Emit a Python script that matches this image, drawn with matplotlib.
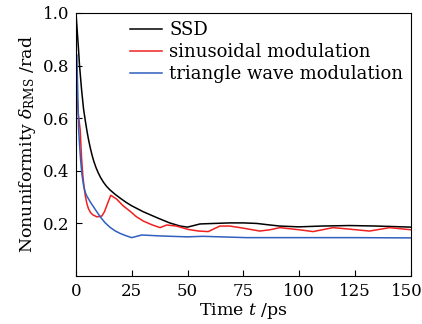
import matplotlib
matplotlib.use("Agg")
import matplotlib.pyplot as plt
from matplotlib.transforms import ScaledTranslation

plt.rcParams['font.family'] = 'DejaVu Serif'
plt.rcParams['mathtext.fontset'] = 'dejavuserif'

# SSD
t_ssd = [0, 0.5, 1, 1.6, 2.5, 3.4, 4.2, 4.9, 5.6, 6.4, 7.2, 8, 9, 10, 11, 12.3,
         13.7, 15.3, 17.5, 20, 22.5, 25, 30, 36.8, 42, 46.7, 50, 55.6, 62, 69, 75,
         81, 86, 91.4, 100, 110, 122.7, 135, 150]
v_ssd = [1.0, 0.94, 0.88, 0.8, 0.71, 0.635, 0.59, 0.553, 0.52, 0.488, 0.46, 0.436,
         0.412, 0.392, 0.375, 0.357, 0.341, 0.327, 0.311, 0.295, 0.28, 0.267, 0.245,
         0.22, 0.202, 0.19, 0.186, 0.198, 0.2, 0.202, 0.202, 0.2, 0.195, 0.19, 0.187,
         0.19, 0.192, 0.19, 0.186]

# sinusoidal modulation
t_sin = [0, 0.5, 1, 1.9, 2.5, 3.1, 3.6, 4.2, 4.9, 5.6, 6.5, 7.5, 9.4, 11.6, 12.8,
         13.9, 15.6, 18.3, 21, 24.3, 27, 30.2, 34, 37.7, 40.7, 45, 50.4, 55, 59.3,
         64.5, 69, 75, 82.4, 87, 91.4, 100, 106.3, 115.2, 123, 131.6, 140.6, 150]
v_sin = [0.75, 0.68, 0.62, 0.555, 0.45, 0.38, 0.34, 0.305, 0.275, 0.256, 0.242,
         0.233, 0.225, 0.228, 0.245, 0.27, 0.307, 0.292, 0.268, 0.246, 0.226, 0.209,
         0.195, 0.184, 0.194, 0.19, 0.177, 0.171, 0.169, 0.19, 0.19, 0.182, 0.171,
         0.176, 0.184, 0.176, 0.169, 0.184, 0.178, 0.171, 0.184, 0.176]

# triangle wave modulation
t_tri = [0, 0.4, 1.2, 1.6, 2.1, 2.7, 3.4, 4.1, 4.8, 6.4, 8.5, 10.9, 13, 15.3, 17.5,
         19.8, 22.5, 25, 29.5, 39, 50, 57, 76.5, 100, 125, 150]
v_tri = [0.85, 0.84, 0.56, 0.5, 0.44, 0.385, 0.345, 0.32, 0.305, 0.282, 0.255,
         0.225, 0.203, 0.185, 0.172, 0.162, 0.153, 0.146, 0.156, 0.152, 0.149, 0.151,
         0.146, 0.146, 0.146, 0.145]

fig = plt.figure(figsize=(4.22, 3.24), dpi=100)
ax = fig.add_axes([0.180, 0.148, 0.793, 0.812])

ax.plot(t_ssd, v_ssd, color='black', lw=1.1, label='SSD')
ax.plot(t_sin, v_sin, color='#f02020', lw=1.1, label='sinusoidal modulation')
ax.plot(t_tri, v_tri, color='#2f5fbf', lw=1.1, label='triangle wave modulation')

ax.set_xlim(0, 150)
ax.set_ylim(0, 1.0)
ax.set_xticks([0, 25, 50, 75, 100, 125, 150])
ax.set_yticks([0.2, 0.4, 0.6, 0.8, 1.0])
ax.set_yticklabels(['0.2', '0.4', '0.6', '0.8', '1.0'])
ax.tick_params(direction='in', length=4, labelsize=12, pad=5)

# nudge the last x label so it stays inside the picture
last = ax.get_xticklabels()[-1]
last.set_transform(last.get_transform() + ScaledTranslation(-4 / 100, 0, fig.dpi_scale_trans))

ax.set_xlabel('Time $t$ /ps', fontsize=12.5, labelpad=1)
ax.set_ylabel(r'Nonuniformity $\delta_{\rm RMS}$ /rad', fontsize=12.5, labelpad=3)

ax.legend(loc='upper left', bbox_to_anchor=(0.13, 1.01), frameon=False,
          fontsize=13, handlelength=1.75, handletextpad=0.4, labelspacing=0.23,
          borderaxespad=0.2)

fig.savefig('out.png', dpi=100)
